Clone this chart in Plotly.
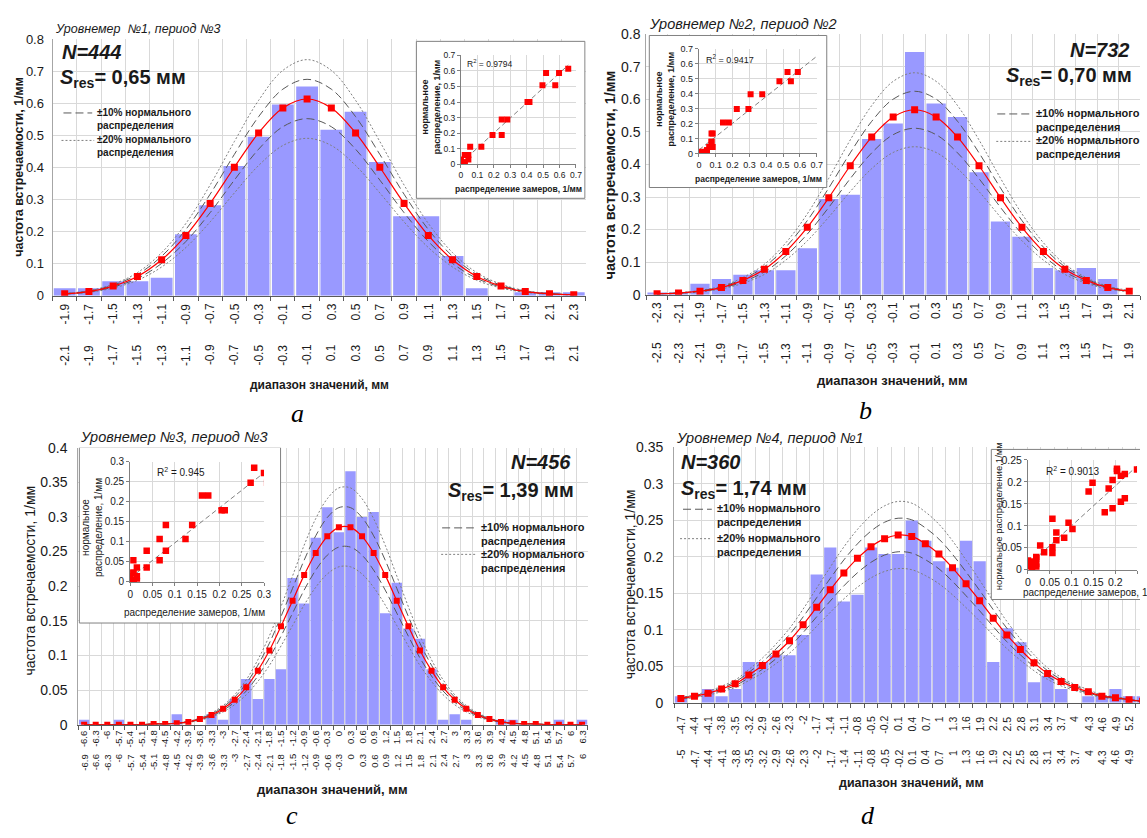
import numpy as np
import plotly.graph_objects as go

W, H = 1147, 838
SANS = "Liberation Sans, Arial, sans-serif"
SERIF = "Liberation Serif, Times New Roman, serif"
BAR = "#9999ff"
RED = "#ff0000"
GRID = "#d9d9d9"
TXT = "#1a1a1a"

# ---------------- data ----------------
a_title = "Уровнемер  №1, период №3"
a_N = "444"
a_S = "0,65"
a_r2 = "0.9794"
a_lower = ["-2.1", "-1.9", "-1.7", "-1.5", "-1.3", "-1.1", "-0.9", "-0.7", "-0.5", "-0.3", "-0.1",
           "0.1", "0.3", "0.5", "0.7", "0.9", "1.1", "1.3", "1.5", "1.7", "1.9", "2.1"]
a_upper = ["-1.9", "-1.7", "-1.5", "-1.3", "-1.1", "-0.9", "-0.7", "-0.5", "-0.3", "-0.1", "0.1",
           "0.3", "0.5", "0.7", "0.9", "1.1", "1.3", "1.5", "1.7", "1.9", "2.1", "2.3"]
a_bars = [0.023, 0.023, 0.045, 0.045, 0.056, 0.192, 0.282, 0.405, 0.496, 0.597, 0.653,
          0.518, 0.574, 0.417, 0.248, 0.248, 0.124, 0.023, 0.0, 0.011, 0.011, 0.011]
a_norm = [0.006, 0.013, 0.030, 0.060, 0.112, 0.188, 0.288, 0.401, 0.508, 0.586, 0.614,
          0.586, 0.508, 0.401, 0.288, 0.188, 0.112, 0.060, 0.030, 0.013, 0.006, 0.003]

b_title = "Уровнемер №2, период №2"
b_N = "732"
b_S = "0,70"
b_r2 = "0.9417"
b_lower = ["-2.5", "-2.3", "-2.1", "-1.9", "-1.7", "-1.5", "-1.3", "-1.1", "-0.9", "-0.7", "-0.5", "-0.3",
           "-0.1", "0.1", "0.3", "0.5", "0.7", "0.9", "1.1", "1.3", "1.5", "1.7", "1.9"]
b_upper = ["-2.3", "-2.1", "-1.9", "-1.7", "-1.5", "-1.3", "-1.1", "-0.9", "-0.7", "-0.5", "-0.3", "-0.1",
           "0.1", "0.3", "0.5", "0.7", "0.9", "1.1", "1.3", "1.5", "1.7", "1.9", "2.1"]
b_bars = [0.007, 0.007, 0.034, 0.048, 0.061, 0.075, 0.075, 0.143, 0.294, 0.307, 0.478, 0.526,
          0.745, 0.587, 0.546, 0.376, 0.225, 0.178, 0.082, 0.075, 0.082, 0.048, 0.0]
b_norm = [0.003, 0.005, 0.011, 0.022, 0.044, 0.078, 0.133, 0.207, 0.298, 0.396, 0.484, 0.546,
          0.568, 0.546, 0.484, 0.396, 0.298, 0.207, 0.133, 0.078, 0.044, 0.022, 0.011]

c_title = "Уровнемер №3, период №3"
c_N = "456"
c_S = "1,39"
c_r2 = "0.945"
c_lower = ["-6.9", "-6.6", "-6.3", "-6", "-5.7", "-5.4", "-5.1", "-4.8", "-4.5", "-4.2", "-3.9",
           "-3.6", "-3.3", "-3", "-2.7", "-2.4", "-2.1", "-1.8", "-1.5", "-1.2", "-0.9", "-0.6",
           "-0.3", "0", "0.3", "0.6", "0.9", "1.2", "1.5", "1.8", "2.1", "2.4", "2.7", "3",
           "3.3", "3.6", "3.9", "4.2", "4.5", "4.8", "5.1", "5.4", "5.7", "6"]
c_upper = ["-6.6", "-6.3", "-6", "-5.7", "-5.4", "-5.1", "-4.8", "-4.5", "-4.2", "-3.9", "-3.6",
           "-3.3", "-3", "-2.7", "-2.4", "-2.1", "-1.8", "-1.5", "-1.2", "-0.9", "-0.6", "-0.3",
           "0", "0.3", "0.6", "0.9", "1.2", "1.5", "1.8", "2.1", "2.4", "2.7", "3", "3.3",
           "3.6", "3.9", "4.2", "4.5", "4.8", "5.1", "5.4", "5.7", "6", "6.3"]
c_bars = [0.007, 0.0, 0.0, 0.007, 0.0, 0.0, 0.0, 0.0, 0.015, 0.0, 0.0, 0.015, 0.007,
          0.037, 0.066, 0.037, 0.066, 0.080, 0.212, 0.175, 0.270, 0.314, 0.278, 0.366,
          0.300, 0.307, 0.161, 0.205, 0.139, 0.124, 0.080, 0.007, 0.015, 0.007, 0.0, 0.0,
          0.007, 0.007, 0.0, 0.0, 0.0, 0.007, 0.0, 0.007]
c_norm = [0.0, 0.0, 0.0, 0.0, 0.0, 0.0, 0.001, 0.001, 0.002, 0.004, 0.008, 0.014, 0.023,
          0.036, 0.054, 0.078, 0.107, 0.142, 0.179, 0.216, 0.248, 0.272, 0.285, 0.285,
          0.272, 0.248, 0.216, 0.179, 0.142, 0.107, 0.078, 0.054, 0.036, 0.023, 0.014,
          0.008, 0.004, 0.002, 0.001, 0.001, 0.0, 0.0, 0.0, 0.0]

d_title = "Уровнемер №4, период №1"
d_N = "360"
d_S = "1,74"
d_r2 = "0.9013"
d_lower = ["-5", "-4.7", "-4.4", "-4.1", "-3.8", "-3.5", "-3.2", "-2.9", "-2.6", "-2.3", "-2",
           "-1.7", "-1.4", "-1.1", "-0.8", "-0.5", "-0.2", "0.1", "0.4", "0.7", "1", "1.3",
           "1.6", "1.9", "2.2", "2.5", "2.8", "3.1", "3.4", "3.7", "4", "4.3", "4.6", "4.9", "5.2"]
d_upper = ["-4.7", "-4.4", "-4.1", "-3.8", "-3.5", "-3.2", "-2.9", "-2.6", "-2.3", "-2", "-1.7",
           "-1.4", "-1.1", "-0.8", "-0.5", "-0.2", "0.1", "0.4", "0.7", "1", "1.3", "1.6",
           "1.9", "2.2", "2.5", "2.8", "3.1", "3.4", "3.7", "4", "4.3", "4.6", "4.9", "5.2", "5.5"]
d_bars = [0.009, 0.0, 0.019, 0.009, 0.019, 0.056, 0.056, 0.065, 0.065, 0.093, 0.176, 0.213,
          0.139, 0.148, 0.213, 0.204, 0.204, 0.250, 0.222, 0.194, 0.185, 0.222, 0.194, 0.056,
          0.102, 0.083, 0.028, 0.037, 0.019, 0.0, 0.009, 0.009, 0.019, 0.009, 0.009]
d_norm = [0.006, 0.009, 0.013, 0.019, 0.026, 0.038, 0.051, 0.067, 0.085, 0.107, 0.131, 0.155,
          0.178, 0.198, 0.214, 0.225, 0.230, 0.228, 0.218, 0.204, 0.185, 0.163, 0.140, 0.116,
          0.093, 0.073, 0.055, 0.040, 0.029, 0.021, 0.015, 0.009, 0.007, 0.004, 0.002]

band10 = 0.10   # +-10% of normal distribution
band20 = 0.20   # +-20% of normal distribution

y_title = "частота встречаемости, 1/мм"
x_title = "диапазон значений, мм"
leg10 = "±10% нормального<br>распределения"
leg20 = "±20% нормального<br>распределения"
in_x_title = "распределение замеров, 1/мм"
in_y_title2 = "нормальное<br>распределение, 1/мм"
in_y_title1 = "нормальное распределение,1/мм"

# ---------------- layout geometry (pixels) ----------------
panels = [
    dict(title=a_title, N=a_N, S=a_S, r2=a_r2, lower=a_lower, upper=a_upper, bars=a_bars, norm=a_norm,
         X0=50, X1=588, Yt=32, Yb=293.3, ymax=0.8, dtick=0.1, ytf=13, ystand=5, xr1=None,
         inset=(462, 578, 48.3, 159.3), irange=0.7, idtick=0.1, box=(417, 34, 587, 194), itf=8.5,
         title_xy=(50, 21, 12.5), N_xy=(57, 45, "left"), S_xy=(55, 72, "left"), big=20,
         leg=[(61, 90, 107, 113), (59, 92, 135, 141)], leg_tx=93, leg_size=10,
         ytitle=(16, 162, 12.5, True), xtitle=(319, 384, 12), up_top=299, low_top=341, lab=12,
         letter=(297, 413), r2_xy=(466, 57, 8.5), iyt=(432, 101, 9, True, in_y_title2),
         ixt=(520, 185, 8.5, True), msize=7, imsize=6),
    dict(title=b_title, N=b_N, S=b_S, r2=b_r2, lower=b_lower, upper=b_upper, bars=b_bars, norm=b_norm,
         X0=649, X1=1147, Yt=26.7, Yb=292.3, ymax=0.8, dtick=0.1, ytf=14, ystand=2, xr1=None,
         inset=(702, 821, 41.7, 148.3), irange=0.7, idtick=0.1, box=(652, 28, 831, 183), itf=9,
         title_xy=(650, 16, 14.5), N_xy=(1139, 43, "right"), S_xy=(1141, 70, "right"), big=20,
         leg=[(1003, 1037, 108, 114), (1002, 1037, 136, 142)], leg_tx=1040, leg_size=11,
         ytitle=(612, 170, 14.5, True), xtitle=(897, 380, 13), up_top=298, low_top=339, lab=12,
         letter=(870, 410), r2_xy=(707, 52, 9), iyt=(668, 93, 9, True, in_y_title2),
         ixt=(762, 174, 8.5, True), msize=7, imsize=6),
    dict(title=c_title, N=c_N, S=c_S, r2=c_r2, lower=c_lower, upper=c_upper, bars=c_bars, norm=c_norm,
         X0=76, X1=590, Yt=448.3, Yb=730.6, ymax=0.4, dtick=0.05, ytf=14, ystand=7, xr1=None,
         inset=(128.3, 263.3, 462.7, 585), irange=0.3, idtick=0.05, box=(77, 448, 280, 627), itf=10,
         title_xy=(76, 437, 14.5), N_xy=(575, 463, "right"), S_xy=(578, 493, "right"), big=20,
         leg=[(443, 475, 530, 536), (442, 477, 557, 564)], leg_tx=480, leg_size=11,
         ytitle=(27, 584, 14, False), xtitle=(332, 797, 13), up_top=735, low_top=759, lab=9.5,
         letter=(292, 823), r2_xy=(153, 473, 10), iyt=(90, 530, 10, False, in_y_title2),
         ixt=(193, 616, 10, False), msize=6, imsize=6.5),
    dict(title=d_title, N=d_N, S=d_S, r2=d_r2, lower=d_lower, upper=d_upper, bars=d_bars, norm=d_norm,
         X0=677, X1=1147, Yt=448, Yb=708.3, ymax=0.35, dtick=0.05, ytf=14, ystand=7, xr1=0.5 + 470 / 13.7,
         inset=(1034, 1144, 460.7, 572.7), irange=0.25, idtick=0.05, box=(997, 450, 1160, 603), itf=10.5,
         title_xy=(677, 438, 14.5), N_xy=(682, 463, "left"), S_xy=(682, 491, "left"), big=20,
         leg=[(686, 715, 511, 517), (683, 715, 541, 547)], leg_tx=718, leg_size=11,
         ytitle=(632, 587, 14, False), xtitle=(916, 790, 12.5), up_top=720, low_top=754, lab=10.5,
         letter=(873, 823), r2_xy=(1050, 472, 10), iyt=(1004, 518, 9.5, False, in_y_title1),
         ixt=(1027, 596, 10, False), msize=7, imsize=6.5),
]

fig = go.Figure()
annotations = []
shapes = []
layout = {}


def pyp(y):
    return 1 - y / H


def pxp(x):
    return x / W


def ann(x, y, text, size, xanchor="center", yanchor="middle", angle=0, family=SANS, color=TXT,
        xref="paper", yref="paper", align="center"):
    annotations.append(dict(x=x, y=y, xref=xref, yref=yref, text=text, showarrow=False,
                            xanchor=xanchor, yanchor=yanchor, textangle=angle, align=align,
                            font=dict(family=family, size=size, color=color)))


for i, p in enumerate(panels):
    k = i + 1
    s = "" if k == 1 else str(k)
    j = k + 4
    n = len(p["bars"])
    xs = list(range(1, n + 1))
    xr = [0.5, p["xr1"] if p["xr1"] else n + 0.5]

    # main axes
    layout["xaxis" + s] = dict(
        domain=[pxp(p["X0"]), pxp(p["X1"])], range=xr, anchor="y" + s,
        tickmode="array", tickvals=[e + 0.5 for e in range(0, n + 1)], showticklabels=False,
        ticks="outside", ticklen=4, tickcolor="#595959", showgrid=True, gridcolor=GRID, gridwidth=1,
        showline=True, linecolor="#595959", linewidth=1, zeroline=False, fixedrange=True)
    layout["yaxis" + s] = dict(
        domain=[pyp(p["Yb"]), pyp(p["Yt"])], range=[0, p["ymax"]], dtick=p["dtick"], anchor="x" + s,
        tickfont=dict(family=SANS, size=p["ytf"], color=TXT), ticklabelstandoff=p["ystand"],
        showgrid=True, gridcolor=GRID, showline=True, linecolor="#a6a6a6", zeroline=False,
        ticks="", fixedrange=True)

    fig.add_trace(go.Bar(x=xs, y=p["bars"], marker=dict(color=BAR, line=dict(width=0)),
                         xaxis="x" + s, yaxis="y" + s, hoverinfo="skip"))
    for f, dash, col in [(1 - band20, "2px,2px", "#7f7f7f"), (1 + band20, "2px,2px", "#7f7f7f"),
                         (1 - band10, "8px,4px", "#595959"), (1 + band10, "8px,4px", "#595959")]:
        fig.add_trace(go.Scatter(x=xs, y=[v * f for v in p["norm"]], mode="lines",
                                 line=dict(color=col, width=1, dash=dash, shape="spline"),
                                 xaxis="x" + s, yaxis="y" + s, hoverinfo="skip"))
    fig.add_trace(go.Scatter(x=xs, y=p["norm"], mode="lines+markers",
                             line=dict(color=RED, width=1.2, shape="spline"),
                             marker=dict(symbol="square", size=p["msize"], color=RED),
                             xaxis="x" + s, yaxis="y" + s, hoverinfo="skip"))

    # white background box for the inset (drawn in main panel coordinates)
    def to_data(xpx, ypx):
        xd = xr[0] + (xpx - p["X0"]) / (p["X1"] - p["X0"]) * (xr[1] - xr[0])
        yd = p["ymax"] * (p["Yb"] - ypx) / (p["Yb"] - p["Yt"])
        return xd, yd
    bx0, by0, bx1, by1 = p["box"]
    c0 = to_data(bx0, by0)
    c1 = to_data(bx1, by1)
    fig.add_trace(go.Scatter(x=[c0[0], c1[0], c1[0], c0[0], c0[0]], y=[c0[1], c0[1], c1[1], c1[1], c0[1]],
                             mode="lines", fill="toself", fillcolor="white",
                             line=dict(color="#808080", width=1),
                             xaxis="x" + s, yaxis="y" + s, hoverinfo="skip"))

    # inset axes
    ix0, ix1, iy0, iy1 = p["inset"]
    common = dict(range=[0, p["irange"]], dtick=p["idtick"], showgrid=True, gridcolor=GRID,
                  showline=True, linecolor="#808080", ticks="outside", ticklen=3, tickcolor="#808080",
                  zeroline=False, fixedrange=True,
                  tickfont=dict(family=SANS, size=p["itf"], color=TXT))
    layout["xaxis%d" % j] = dict(domain=[pxp(ix0), pxp(ix1)], anchor="y%d" % j, **common)
    layout["yaxis%d" % j] = dict(domain=[pyp(iy1), pyp(iy0)], anchor="x%d" % j, **common)

    slope, icpt = np.polyfit(p["bars"], p["norm"], 1)
    tx = [min(p["bars"]), max(p["bars"])]
    fig.add_trace(go.Scatter(x=tx, y=[slope * t + icpt for t in tx], mode="lines",
                             line=dict(color="#808080", width=1, dash="5px,3px"),
                             xaxis="x%d" % j, yaxis="y%d" % j, hoverinfo="skip"))
    fig.add_trace(go.Scatter(x=p["bars"], y=p["norm"], mode="markers",
                             marker=dict(symbol="square", size=p["imsize"], color=RED),
                             xaxis="x%d" % j, yaxis="y%d" % j, hoverinfo="skip"))

    # texts
    tx_, ty_, tsz = p["title_xy"]
    ann(pxp(tx_), pyp(ty_), "<i>%s</i>" % p["title"], tsz, xanchor="left")
    nx, ny, na = p["N_xy"]
    ann(pxp(nx), pyp(ny), "<b><i>N=%s</i></b>" % p["N"], p["big"], xanchor=na)
    sx, sy, sa = p["S_xy"]
    ann(pxp(sx), pyp(sy), "<b><i>S</i><sub>res</sub>= %s мм</b>" % p["S"], p["big"], xanchor=sa)
    for (lx0, lx1, ly, tmid), txt, dash, col in zip(p["leg"], [leg10, leg20],
                                                   ["8px,4px", "2px,2px"], ["#595959", "#7f7f7f"]):
        shapes.append(dict(type="line", xref="paper", yref="paper", x0=pxp(lx0), x1=pxp(lx1),
                           y0=pyp(ly), y1=pyp(ly), line=dict(color=col, width=1, dash=dash)))
        ann(pxp(p["leg_tx"]), pyp(tmid), "<b>%s</b>" % txt, p["leg_size"], xanchor="left", align="left")
    yx, yy, ysz, yb = p["ytitle"]
    ann(pxp(yx), pyp(yy), ("<b>%s</b>" % y_title) if yb else y_title, ysz, angle=-90)
    xx, xy, xsz = p["xtitle"]
    ann(pxp(xx), pyp(xy), "<b>%s</b>" % x_title, xsz)
    for m, lab in enumerate(p["upper"]):
        ann(m + 1, pyp(p["up_top"]), lab, p["lab"], yanchor="top", angle=-90, xref="x" + s)
    for m, lab in enumerate(p["lower"]):
        ann(m + 1, pyp(p["low_top"]), lab, p["lab"], yanchor="top", angle=-90, xref="x" + s)
    lx, ly = p["letter"]
    ann(pxp(lx), pyp(ly), "<i>%s</i>" % "abcd"[i], 26, family=SERIF, color="black")
    rx, ry, rsz = p["r2_xy"]
    ann(pxp(rx), pyp(ry), "R<sup>2</sup> = %s" % p["r2"], rsz, xanchor="left")
    iyx, iyy, iysz, iyb, iytxt = p["iyt"]
    ann(pxp(iyx), pyp(iyy), ("<b>%s</b>" % iytxt) if iyb else iytxt, iysz, angle=-90)
    ixx, ixy, ixsz, ixb = p["ixt"]
    ann(pxp(ixx), pyp(ixy), ("<b>%s</b>" % in_x_title) if ixb else in_x_title, ixsz,
        xanchor="left" if i == 3 else "center")

fig.update_layout(
    width=W, height=H, autosize=False, margin=dict(l=0, r=0, t=0, b=0, pad=0),
    paper_bgcolor="white", plot_bgcolor="white", showlegend=False, bargap=0.1,
    annotations=annotations, shapes=shapes, **layout)

fig.write_html("out.html", config={"displayModeBar": False})
